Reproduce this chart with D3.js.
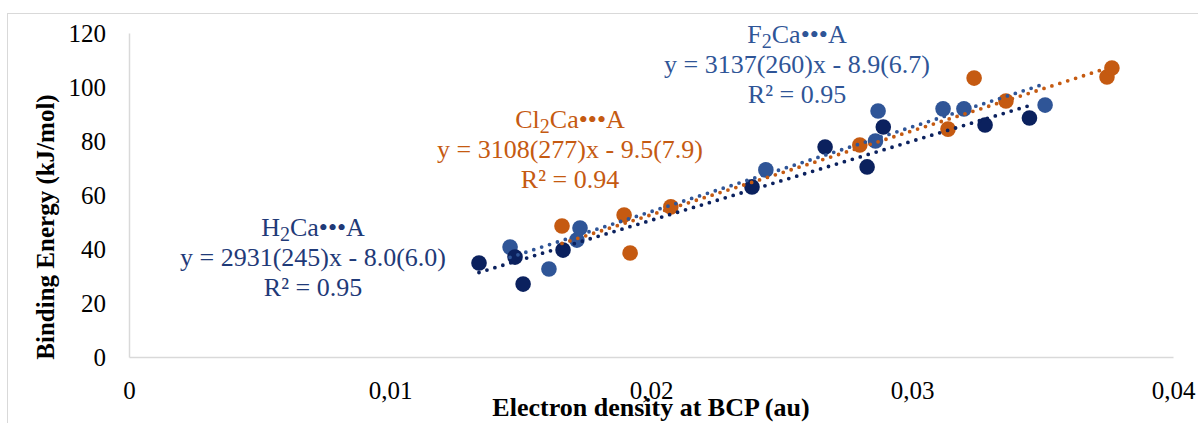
<!DOCTYPE html>
<html><head><meta charset="utf-8">
<script src="https://cdn.jsdelivr.net/npm/d3@7"></script>
<style>
html,body{margin:0;padding:0;background:#fff;}
svg{display:block;}
svg text{font-family:"Liberation Serif","Times New Roman",Times,Tinos,serif;}
</style></head>
<body>
<svg id="chart" width="1198" height="423"></svg>
<script>
// ---- data ----
const h2X = [0.01341, 0.01479, 0.01510, 0.01663, 0.02387, 0.02667, 0.02828, 0.02890, 0.03280, 0.03450];
const h2Y = [34.8, 37.0, 27.0, 39.6, 63.0, 77.8, 70.4, 85.2, 85.9, 88.5];
const f2X = [0.01460, 0.01609, 0.01716, 0.01728, 0.02440, 0.02860, 0.02870, 0.03119, 0.03199, 0.03510];
const f2Y = [40.7, 32.6, 43.3, 47.8, 69.3, 80.0, 91.1, 91.9, 91.9, 93.3];
const cl2X = [0.01659, 0.01897, 0.01920, 0.02076, 0.02800, 0.03138, 0.03238, 0.03360, 0.03747, 0.03766];
const cl2Y = [48.5, 52.6, 38.5, 55.6, 78.5, 84.4, 103.3, 94.8, 103.7, 107.0];
const slopes = {H2Ca: 2931, F2Ca: 3137, Cl2Ca: 3108};
const intercepts = {H2Ca: -8.0, F2Ca: -8.9, Cl2Ca: -9.5};
const xTicks = [0, 0.01, 0.02, 0.03, 0.04];
const xTickLabels = ["0", "0,01", "0,02", "0,03", "0,04"];
const yTicks = [0, 20, 40, 60, 80, 100, 120];
const labelLines = {
  H2Ca: ["H|2|Ca•••A", "y = 2931(245)x - 8.0(6.0)", "R² = 0.95"],
  Cl2Ca: ["Cl|2|Ca•••A", "y = 3108(277)x - 9.5(7.9)", "R² = 0.94"],
  F2Ca: ["F|2|Ca•••A", "y = 3137(260)x - 8.9(6.7)", "R² = 0.95"]
};
const xTitle = "Electron density at BCP (au)";
const yTitle = "Binding Energy (kJ/mol)";

// ---- styles ----
const colors = {H2Ca: "#0b215e", F2Ca: "#2f5597", Cl2Ca: "#c55a11"};
const textColors = {H2Ca: "#1f3a78", F2Ca: "#2f5597", Cl2Ca: "#c55a11"};
const labelPos = {H2Ca: [313, 236], Cl2Ca: [570, 128], F2Ca: [797, 43]};

const svg = d3.select("#chart");
const L = 129, R = 1173, T = 33, B = 357;
const x = d3.scaleLinear().domain([0, 0.04]).range([L, R]);
const y = d3.scaleLinear().domain([0, 120]).range([B, T]);

// outer border
svg.append("rect").attr("x", 7.5).attr("y", 13.5).attr("width", 1220).attr("height", 440)
  .attr("fill", "none").attr("stroke", "#d9d9d9").attr("stroke-width", 1);

// axes
const xAxis = d3.axisBottom(x).tickValues(xTicks).tickFormat((d, i) => xTickLabels[i]).tickSize(0).tickPadding(24);
const gx = svg.append("g").attr("transform", `translate(0,${B})`).call(xAxis)
  .attr("font-family", null).attr("font-size", null);
gx.select(".domain").attr("stroke", "#d9d9d9").attr("stroke-width", 1.5);
gx.selectAll("text").style("font-size", "25px").attr("fill", "#000");

const yAxis = d3.axisLeft(y).tickValues(yTicks).tickSize(0).tickPadding(23);
const gy = svg.append("g").attr("transform", `translate(${L},0)`).call(yAxis)
  .attr("font-family", null).attr("font-size", null);
gy.select(".domain").attr("stroke", "#d9d9d9").attr("stroke-width", 1.5);
gy.selectAll("text").style("font-size", "25px").attr("fill", "#000");

// titles
svg.append("text").attr("x", (L + R) / 2).attr("y", 416).attr("text-anchor", "middle")
  .style("font-size", "26px").attr("font-weight", "bold").text(xTitle);
svg.append("text").attr("transform", `translate(54,227) rotate(-90)`).attr("text-anchor", "middle")
  .style("font-size", "25px").attr("font-weight", "bold").text(yTitle);

// markers
const series = {
  Cl2Ca: cl2X.map((v, i) => [v, cl2Y[i]]),
  F2Ca: f2X.map((v, i) => [v, f2Y[i]]),
  H2Ca: h2X.map((v, i) => [v, h2Y[i]])
};
["Cl2Ca", "F2Ca", "H2Ca"].forEach(k => {
  svg.append("g").selectAll("circle").data(series[k]).join("circle")
    .attr("cx", d => x(d[0])).attr("cy", d => y(d[1])).attr("r", 7.8)
    .attr("fill", colors[k]);
});

// trendlines
["H2Ca", "Cl2Ca", "F2Ca"].forEach(k => {
  const ext = d3.extent(series[k], d => d[0]);
  const pts = ext.map(v => [v, slopes[k] * v + intercepts[k]]);
  svg.append("path").datum(pts)
    .attr("d", d3.line().x(d => x(d[0])).y(d => y(d[1])))
    .attr("stroke", colors[k]).attr("stroke-width", 3.8)
    .attr("stroke-linecap", "round").attr("stroke-dasharray", "0 8.3").attr("fill", "none");
});

// labels
Object.keys(labelLines).forEach(k => {
  const [cx, cy] = labelPos[k];
  labelLines[k].forEach((line, i) => {
    const t = svg.append("text").attr("x", cx).attr("y", cy + i * 30)
      .attr("text-anchor", "middle").style("font-size", "26px").attr("fill", textColors[k]);
    if (line.includes("|")) {
      const parts = line.split("|");
      t.append("tspan").text(parts[0]);
      t.append("tspan").style("font-size", "20px").attr("dy", 5).text(parts[1]);
      t.append("tspan").attr("dy", -5).text(parts[2]);
    } else {
      t.text(line);
    }
  });
});
</script>
</body></html>
